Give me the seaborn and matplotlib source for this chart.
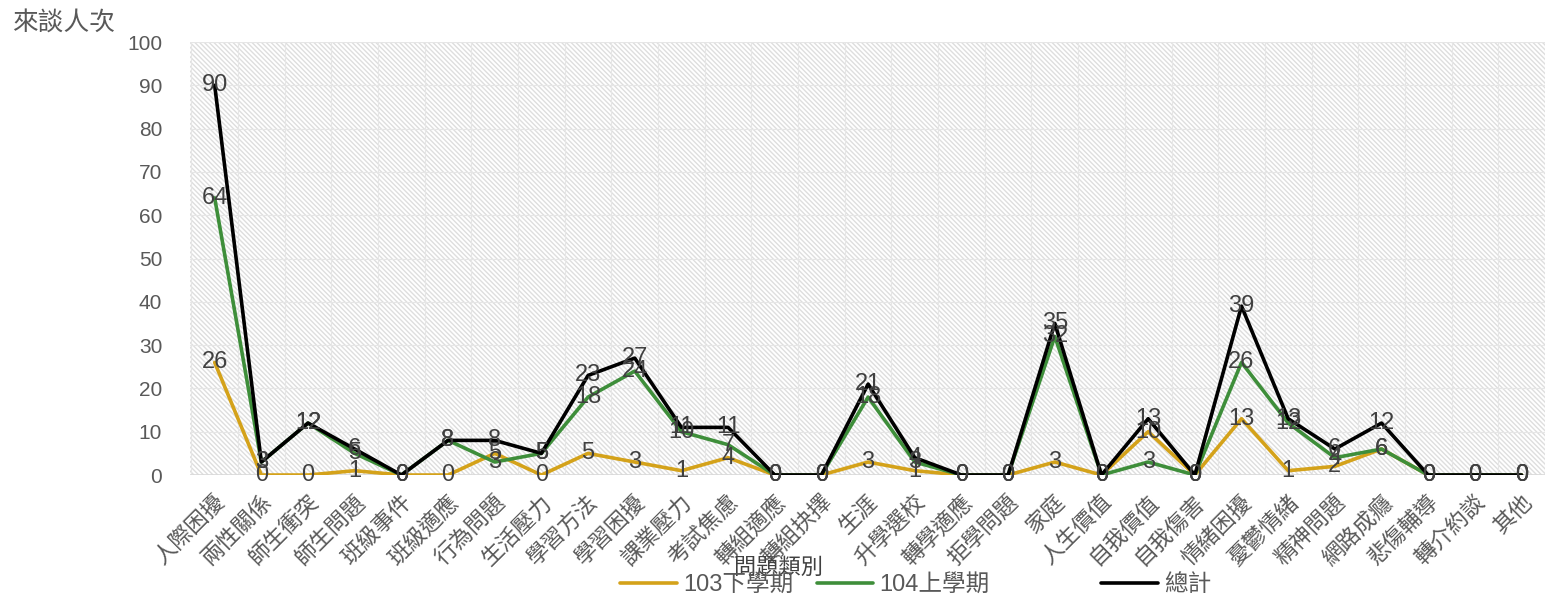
import pandas as pd
import matplotlib.pyplot as plt
import seaborn as sns

sns.set_style("white")
plt.rcParams['font.family'] = ['Liberation Sans', 'Noto Sans CJK TC', 'DejaVu Sans']
plt.rcParams['hatch.linewidth'] = 1.0
plt.rcParams['hatch.color'] = "#dedede"

categories = ["人際困擾", "兩性關係", "師生衝突", "師生問題", "班級事件", "班級適應",
              "行為問題", "生活壓力", "學習方法", "學習困擾", "課業壓力", "考試焦慮",
              "轉組適應", "轉組抉擇", "生涯", "升學選校", "轉學適應", "拒學問題",
              "家庭", "人生價值", "自我價值", "自我傷害", "情緒困擾", "憂鬱情緒",
              "精神問題", "網路成癮", "悲傷輔導", "轉介約談", "其他"]
sem_103 = [26, 0, 0, 1, 0, 0, 5, 0, 5, 3, 1, 4, 0, 0, 3, 1, 0, 0,
           3, 0, 10, 0, 13, 1, 2, 6, 0, 0, 0]
sem_104 = [64, 3, 12, 5, 0, 8, 3, 5, 18, 24, 10, 7, 0, 0, 18, 3, 0, 0,
           32, 0, 3, 0, 26, 12, 4, 6, 0, 0, 0]
total = [90, 3, 12, 6, 0, 8, 8, 5, 23, 27, 11, 11, 0, 0, 21, 4, 0, 0,
         35, 0, 13, 0, 39, 13, 6, 12, 0, 0, 0]
series_names = ["103下學期", "104上學期", "總計"]
colors = ["#D4A21A", "#3E8E3A", "#000000"]

rows = []
for name, vals in zip(series_names, [sem_103, sem_104, total]):
    for i, v in enumerate(vals):
        rows.append({"idx": i, "value": v, "series": name})
df = pd.DataFrame(rows)

fig = plt.figure(figsize=(15.48, 6), dpi=100)
ax = fig.add_axes([0.1227, 0.2083, 0.8753, 0.7217])

# background pattern
ax.patch.set_facecolor("white")
ax.patch.set_hatch("\\" * 7)
ax.patch.set_edgecolor("#dedede")
ax.patch.set_linewidth(0)

sns.lineplot(data=df, x="idx", y="value", hue="series", palette=colors,
             hue_order=series_names, linewidth=2.6, sort=False, ax=ax, legend=True)
handles, labels = ax.get_legend_handles_labels()
ax.get_legend().remove()

for name, vals in zip(series_names, [sem_103, sem_104, total]):
    for i, v in enumerate(vals):
        ax.text(i, v, str(v), ha="center", va="center", fontsize=17,
                color="#404040", zorder=5)

ax.set_xlim(-0.53, 28.15)
ax.set_ylim(0, 100)
ax.set_yticks(range(0, 101, 10))
ax.set_xticks(range(len(categories)))
ax.set_xticklabels(categories, rotation=45, ha="right", rotation_mode="anchor",
                   fontsize=16, color="#595959")
ax.tick_params(axis="y", labelsize=15, labelcolor="#595959", length=0, pad=20)
ax.tick_params(axis="x", length=0, pad=12)
ax.set_xticks([i + 0.5 for i in range(-1, len(categories))], minor=True)
ax.grid(True, which="major", axis="y", color="#e6e6e6", linewidth=0.8)
ax.grid(True, which="minor", axis="x", color="#e6e6e6", linewidth=0.8)
ax.set_axisbelow(True)
for s in ax.spines.values():
    s.set_visible(False)
ax.axhline(0, color="#d9d9d9", linewidth=1.2, zorder=1)

ax.set_xlabel("")
ax.set_ylabel("")
fig.text(0.008, 0.962, "來談人次", fontsize=18.5, color="#595959", ha="left", va="center")
fig.text(0.503, 0.054, "問題類別", fontsize=16, color="#404040", ha="center", va="center")

fig.legend(handles[:2], labels[:2], loc="center", bbox_to_anchor=(0.520, 0.025),
           ncol=2, frameon=False, fontsize=17, labelcolor="#595959",
           handlelength=2.4, columnspacing=1.0, handletextpad=0.25)
fig.legend(handles[2:], labels[2:], loc="center", bbox_to_anchor=(0.747, 0.025),
           ncol=1, frameon=False, fontsize=17, labelcolor="#595959",
           handlelength=2.4, handletextpad=0.25)

plt.savefig("out.png", dpi=100)
